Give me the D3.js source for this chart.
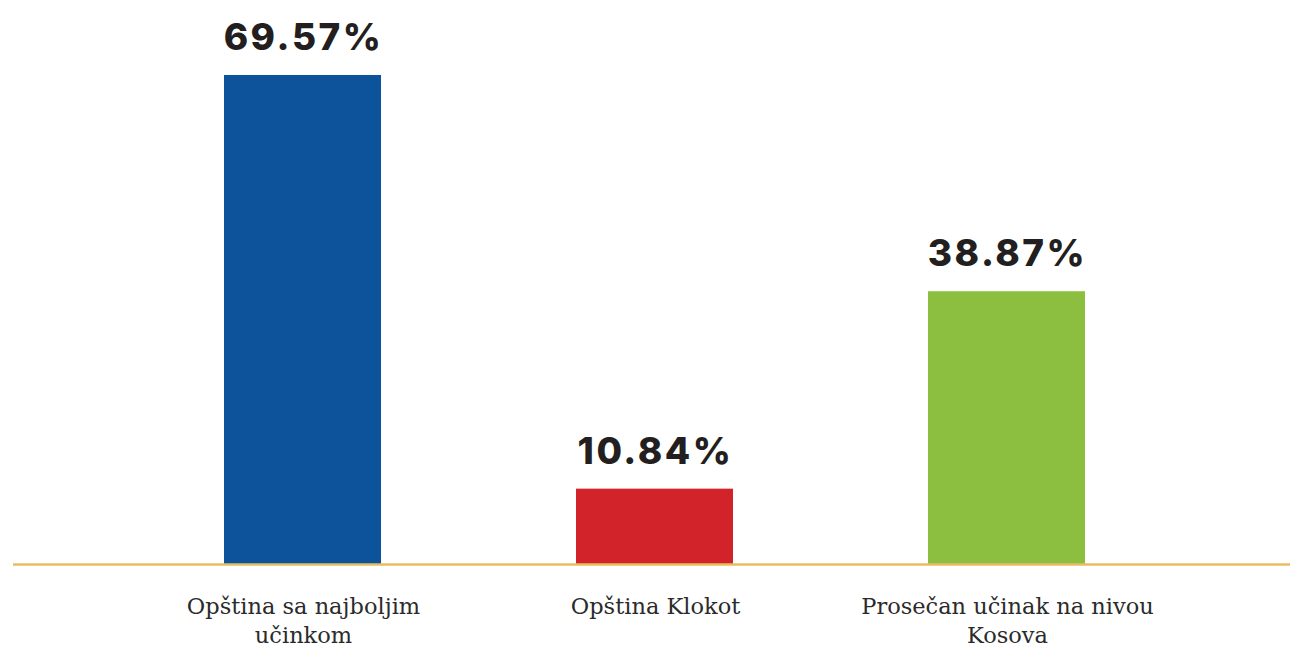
<!DOCTYPE html>
<html>
<head>
<meta charset="utf-8">
<script src="https://cdn.jsdelivr.net/npm/d3@7"></script>
<style>
  html, body { margin: 0; padding: 0; background: #fff; }
  svg { display: block; }
</style>
</head>
<body>
<svg id="chart" width="1290" height="648"></svg>
<script>
const categories = ["Opština sa najboljim učinkom", "Opština Klokot", "Prosečan učinak na nivou Kosova"];
const labelLines = [["Opština sa najboljim", "učinkom"], ["Opština Klokot"], ["Prosečan učinak na nivou", "Kosova"]];
const values = [69.57, 10.84, 38.87];
const valueLabels = ["69.57%", "10.84%", "38.87%"];
const colors = ["#0c539c", "#d2232a", "#8cbf3f"];

const svg = d3.select("#chart");
const baseY = 565;

const x = d3.scaleBand()
  .domain(categories)
  .range([126.5, 1182.5])
  .paddingInner(0.554)
  .paddingOuter(0.277);

const y = d3.scaleLinear()
  .domain([0, d3.max(values)])
  .range([baseY, 75]);

const data = categories.map((c, i) => ({ c, v: values[i], label: valueLabels[i], color: colors[i], lines: labelLines[i] }));

svg.selectAll("rect.bar")
  .data(data)
  .join("rect")
  .attr("class", "bar")
  .attr("x", d => x(d.c))
  .attr("width", x.bandwidth())
  .attr("y", d => y(d.v))
  .attr("height", d => baseY - y(d.v))
  .attr("fill", d => d.color);

// baseline
svg.append("line")
  .attr("x1", 13).attr("x2", 1290)
  .attr("y1", 564.5).attr("y2", 564.5)
  .attr("stroke", "#e8bd5f")
  .attr("stroke-width", 2.5);

// value labels
svg.selectAll("text.val")
  .data(data)
  .join("text")
  .attr("class", "val")
  .attr("x", d => x(d.c) + x.bandwidth() / 2 + 1)
  .attr("y", d => y(d.v) - 25)
  .attr("text-anchor", "middle")
  .attr("font-family", "Inter, sans-serif")
  .attr("font-weight", 800)
  .attr("font-size", 37)
  .attr("letter-spacing", 2.5)
  .attr("fill", "#231f20")
  .text(d => d.label);

// category labels
const cat = svg.selectAll("text.cat")
  .data(data)
  .join("text")
  .attr("class", "cat")
  .attr("text-anchor", "middle")
  .attr("font-family", "'DejaVu Serif', serif")
  .attr("font-size", 22.5)
  .attr("fill", "#2b2b2b");

cat.selectAll("tspan")
  .data(d => d.lines.map((l, i) => ({ l, i, cx: x(d.c) + x.bandwidth() / 2 + 1 })))
  .join("tspan")
  .attr("x", d => d.cx)
  .attr("y", d => 614 + d.i * 29)
  .text(d => d.l);
</script>
</body>
</html>
